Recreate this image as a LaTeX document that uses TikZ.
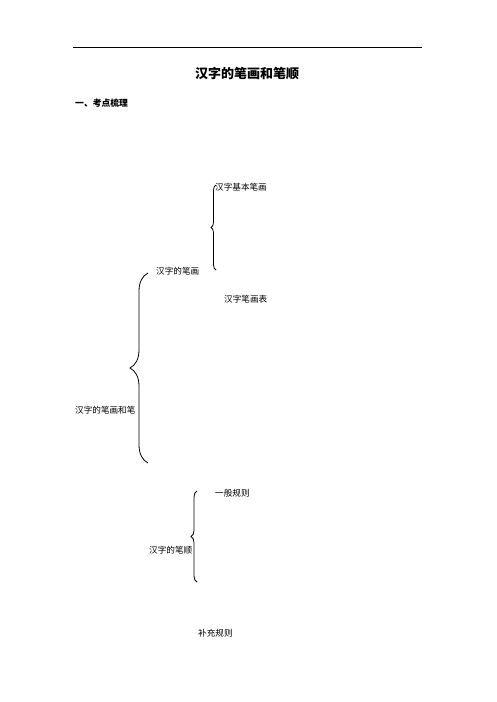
\documentclass[tikz,border=0pt]{standalone}
\usepackage{fontspec}
\newfontfamily\cjk{Noto Sans CJK SC}
\usetikzlibrary{positioning,decorations.pathreplacing}

\begin{document}
\begin{tikzpicture}[x=1pt,y=-1pt,
    item/.style={anchor=west,inner sep=0pt,font=\cjk\fontsize{8.6}{10}\selectfont},
    brace/.style={thick,line width=0.8pt,decorate,decoration={brace,amplitude=#1}}
    ]

  \useasboundingbox (0,0) rectangle (496,702);

  \draw[line width=0.8pt] (73,47) -- (422,47);
  \node(title) [inner sep=0pt,font=\cjk\bfseries\fontsize{13}{15}\selectfont] at (247,74) {汉字的笔画和笔顺};
  \node(head) [item,font=\cjk\bfseries\fontsize{8.8}{10}\selectfont] at (75,103) {一、考点梳理};

  % first level
  \node(root) [item] at (75,410) {汉字的笔画和笔};
  \coordinate(b1top) at (148,273);
  \coordinate(b1bot) at (148,463);
  \draw[brace=18pt] (b1bot) -- (b1top);

  % strokes
  \node(stroke) [item] at (156,271) {汉字的笔画};
  \coordinate(b2top) at (216,185);
  \coordinate(b2bot) at (216,270);
  \draw[brace=5pt] (b2bot) -- (b2top);
  \node(basic) [item] at (215,187) {汉字基本笔画};
  \node(table) [item] at (224,299) {汉字笔画表};

  % order
  \node(order) [item] at (149,550) {汉字的笔顺};
  \coordinate(b3top) at (197,491);
  \coordinate(b3bot) at (197,582);
  \draw[brace=6pt] (b3bot) -- (b3top);
  \node(general) [item] at (215,493) {一般规则};
  \node(extra) [item] at (198,633) {补充规则};

\end{tikzpicture}
\end{document}
